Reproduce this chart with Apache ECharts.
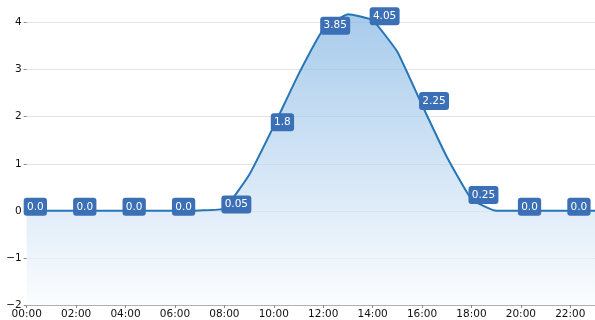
<!DOCTYPE html>
<html>
<head>
<meta charset="utf-8">
<script src="https://cdn.jsdelivr.net/npm/echarts@6/dist/echarts.min.js"></script>
<style>
  html, body { margin: 0; padding: 0; background: #ffffff; }
  #chart { width: 595px; height: 320px; }
</style>
</head>
<body>
<div id="chart"></div>
<script>
// Hourly readings over one day
const hours = ['00:00', '01:00', '02:00', '03:00', '04:00', '05:00', '06:00', '07:00',
               '08:00', '09:00', '10:00', '11:00', '12:00', '13:00', '14:00', '15:00',
               '16:00', '17:00', '18:00', '19:00', '20:00', '21:00', '22:00', '23:00'];
const values = [0, 0, 0, 0, 0, 0, 0, 0.01,
                0.05, 0.76, 1.8, 2.9, 3.85, 4.18, 4.05, 3.38,
                2.25, 1.15, 0.25, 0, 0, 0, 0, 0];
// Only every second hour carries a value tag
const tagged = hours.map((h, i) => i % 2 === 0);

const yTicks = { min: -2, max: 4, step: 1 };

const FONT = 'DejaVu Sans';

function tagText(v) {
  return Number.isInteger(v) ? v.toFixed(1) : String(v);
}

const seriesData = values.map((v, i) => ({
  value: v,
  label: { show: tagged[i] }
}));

const chart = echarts.init(document.getElementById('chart'), null, { renderer: 'canvas' });
chart.setOption({
  animation: false,
  backgroundColor: '#ffffff',
  grid: { left: 26.7, top: 22.6, width: 570.4, height: 282.4, containLabel: false },
  xAxis: {
    type: 'category',
    data: hours,
    boundaryGap: false,
    axisLine: { onZero: false, lineStyle: { color: '#b0b0b0', width: 1 } },
    axisTick: { show: true, interval: 1, length: 3, lineStyle: { color: '#8a8a8a' } },
    axisLabel: { interval: 1, margin: 4, color: '#111111', fontFamily: FONT, fontSize: 10.5 },
    splitLine: { show: false }
  },
  yAxis: {
    type: 'value',
    min: yTicks.min,
    max: yTicks.max,
    interval: yTicks.step,
    axisLine: { show: false },
    axisTick: { show: true, length: 3, lineStyle: { color: '#8a8a8a' } },
    axisLabel: {
      margin: 5, color: '#111111', fontFamily: FONT, fontSize: 10.5,
      formatter: v => String(v).replace('-', '\u2212')
    },
    splitLine: { show: true, lineStyle: { color: '#e3e3e3', width: 1 } }
  },
  series: [{
    type: 'line',
    data: seriesData,
    clip: false,
    smooth: 0.12,
    symbol: 'circle',
    symbolSize: 0.01,
    itemStyle: { color: 'transparent', borderWidth: 0 },
    lineStyle: { color: '#2675b6', width: 2 },
    areaStyle: {
      origin: 'start',
      color: new echarts.graphic.LinearGradient(0, 0, 0, 1, [
        { offset: 0, color: '#82b5e3' },
        { offset: 1, color: '#fafcfe' }
      ])
    },
    label: {
      position: [0, 0],
      align: 'left',
      verticalAlign: 'middle',
      offset: [-3, -4],
      color: '#ffffff',
      fontFamily: FONT,
      fontSize: 10.5,
      lineHeight: 12,
      backgroundColor: '#3b6fb6',
      borderRadius: 3,
      padding: [3, 3.3, 3, 3.3],
      formatter: p => tagText(p.value)
    },
    z: 3
  }]
});
</script>
</body>
</html>
